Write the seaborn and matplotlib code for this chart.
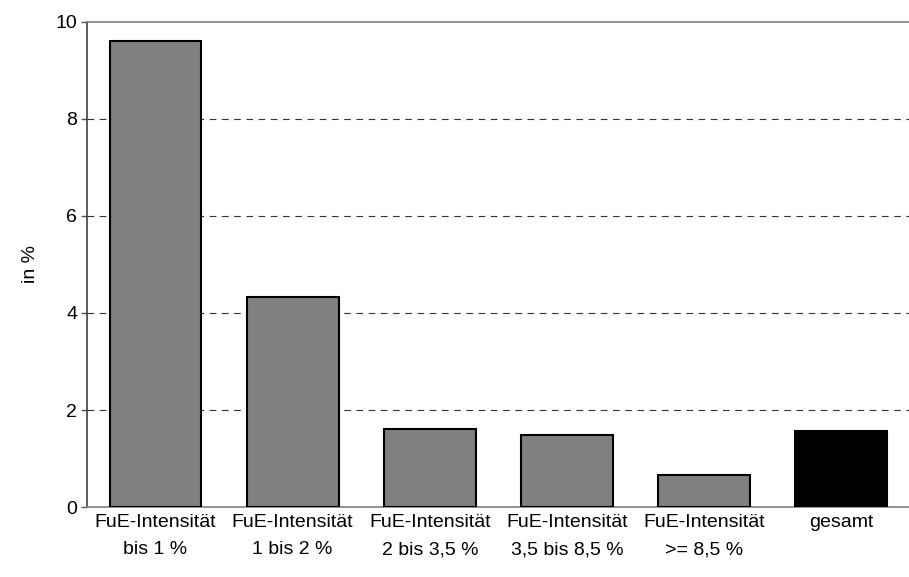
import pandas as pd
import matplotlib.pyplot as plt
import seaborn as sns

kategorien = [
    "FuE-Intensität\nbis 1 %",
    "FuE-Intensität\n1 bis 2 %",
    "FuE-Intensität\n2 bis 3,5 %",
    "FuE-Intensität\n3,5 bis 8,5 %",
    "FuE-Intensität\n>= 8,5 %",
    "gesamt",
]
werte = [9.6, 4.33, 1.6, 1.48, 0.66, 1.57]
farben = ["#808080", "#808080", "#808080", "#808080", "#808080", "#000000"]

df = pd.DataFrame({"kategorie": kategorien, "wert": werte})

sns.set_style("white")
plt.rcParams["font.family"] = ["Liberation Sans", "DejaVu Sans"]
plt.rcParams["text.color"] = "black"
plt.rcParams["xtick.color"] = "black"
plt.rcParams["ytick.color"] = "black"
plt.rcParams["axes.labelcolor"] = "black"

fig = plt.figure(figsize=(9.09, 5.77), dpi=100)
ax = fig.add_axes([0.0957, 0.1213, 0.905, 0.8406])

sns.barplot(
    data=df,
    x="kategorie",
    y="wert",
    hue="kategorie",
    palette=farben,
    legend=False,
    width=0.67,
    edgecolor="black",
    linewidth=1.5,
    ax=ax,
    zorder=3,
)

ax.set_ylim(0, 10)
ax.set_xlim(-0.5, 5.5)
ax.set_yticks([0, 2, 4, 6, 8, 10])
ax.set_yticklabels(["0", "2", "4", "6", "8", "10"], fontsize=14)
ax.tick_params(axis="x", labelsize=14, length=0, pad=5)
ax.tick_params(axis="y", length=4, width=1, color="#555555", direction="out", left=True, pad=3)
for lbl in ax.get_xticklabels():
    lbl.set_linespacing(1.8)

for y in [2, 4, 6, 8]:
    ax.axhline(y, color="#333333", linestyle=(0, (6, 5)), linewidth=0.8, zorder=1)

for side in ["top", "left", "bottom"]:
    ax.spines[side].set_visible(True)
    ax.spines[side].set_color("#808080")
    ax.spines[side].set_linewidth(1.2)
ax.spines["left"].set_color("#404040")
ax.spines["right"].set_visible(False)

ax.set_xlabel("")
ax.set_ylabel("in %", fontsize=14, labelpad=12)

fig.savefig("out.png", dpi=100)
